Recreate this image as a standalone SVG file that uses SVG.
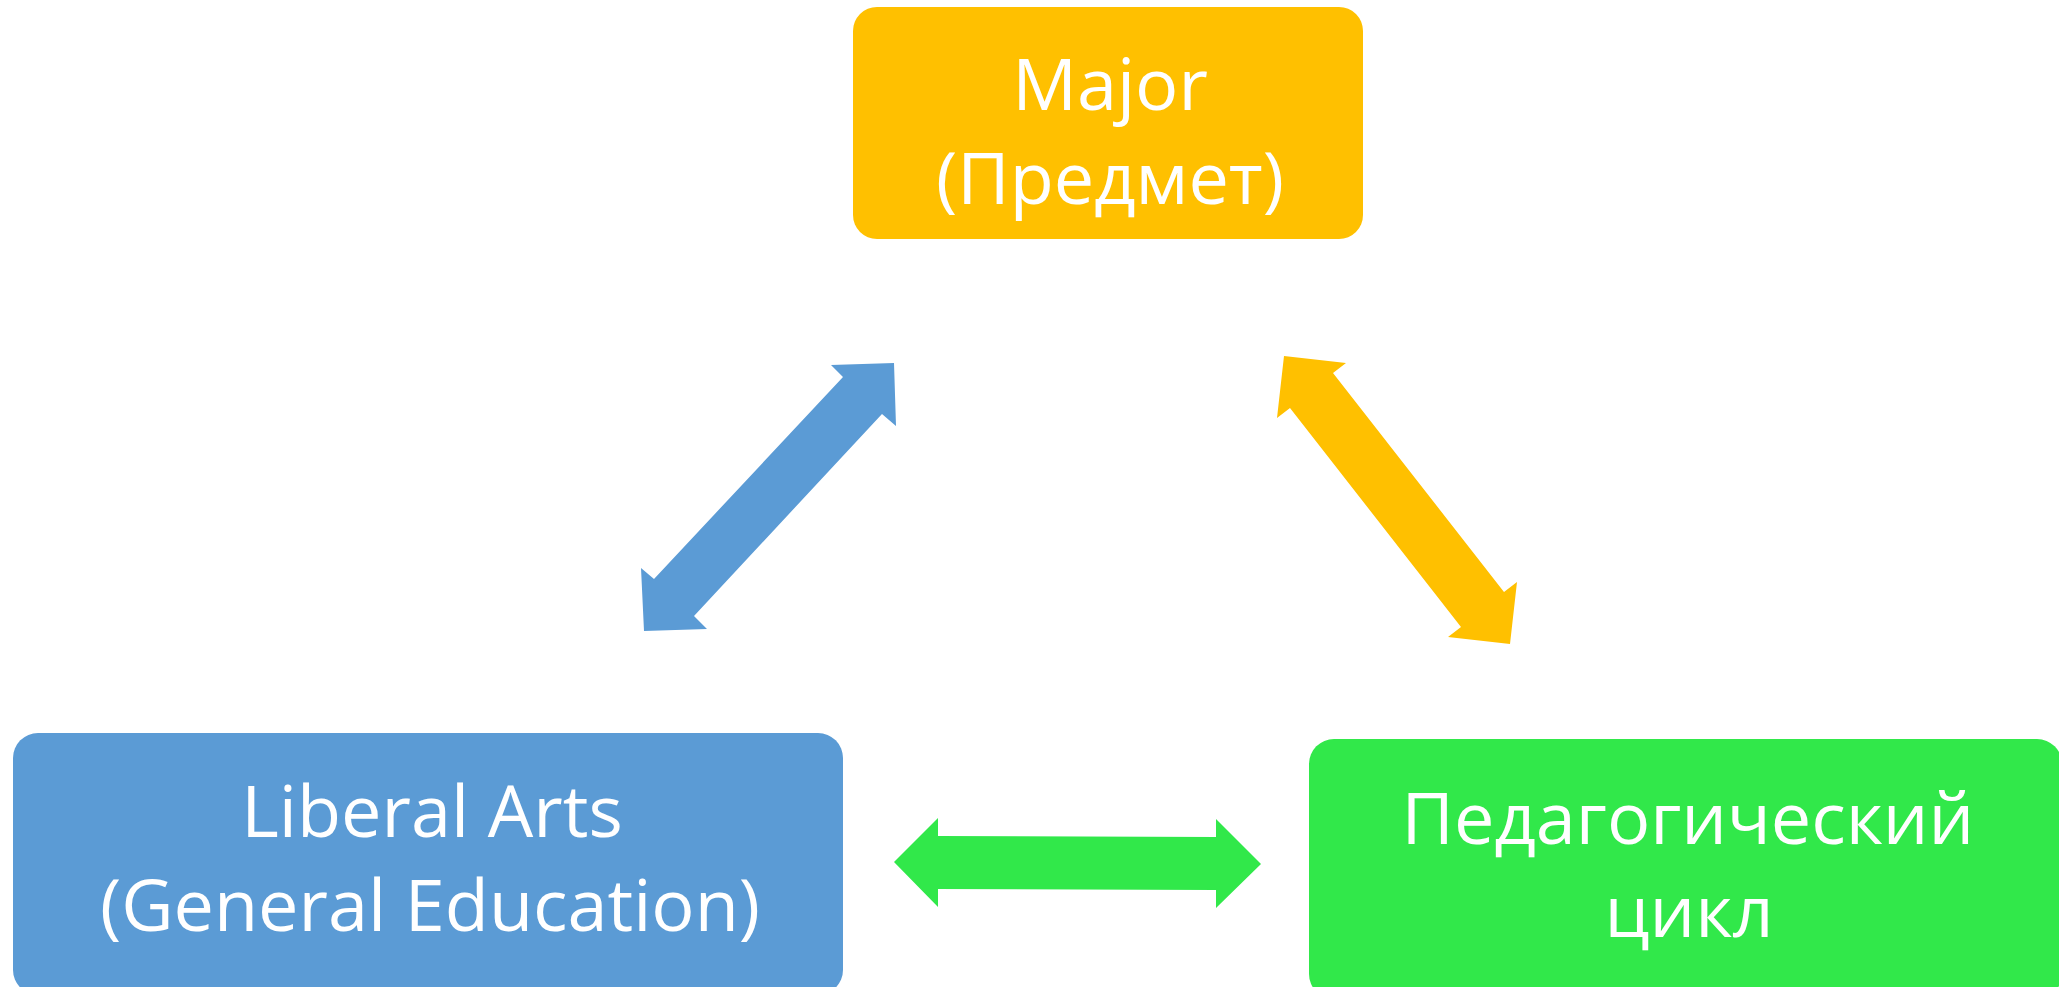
<svg xmlns="http://www.w3.org/2000/svg" width="2059" height="987" viewBox="0 0 2059 987">
<style>
.lbl{font-family:"Open Sans","Liberation Sans",sans-serif;font-size:72px;fill:#FFFFFF;text-anchor:middle}
</style>
<rect x="0" y="0" width="2059" height="987" fill="#FFFFFF"/>
<g id="connectors">
<polygon id="arrow-major-liberal" fill="#5B9BD5" points="894,363 896,426 882,414 694,616 707,629 644,631 641,568 654,579 843,377 831,365"/>
<polygon id="arrow-major-ped" fill="#FFC000" points="1284,356 1346,363 1333,373 1504,592 1517,582 1510,644 1448,637 1461,627 1290,408 1277,418"/>
<polygon id="arrow-liberal-ped" fill="#31E84A" points="894,862 938,818 938,836 1216,837 1216,819 1261,864 1216,908 1216,890 938,889 938,907"/>
</g>
<g id="node-major">
<rect x="853" y="7" width="510" height="232" rx="24" fill="#FFC000"/>
<text class="lbl" x="1110" y="110">Major</text>
<text class="lbl" x="1110" y="204">(Предмет)</text>
</g>
<g id="node-liberal">
<rect x="13" y="733" width="830" height="262" rx="25" fill="#5B9BD5"/>
<text class="lbl" x="432" y="837">Liberal Arts</text>
<text class="lbl" x="430" y="931">(General Education)</text>
</g>
<g id="node-ped">
<rect x="1309" y="739" width="753" height="260" rx="25" fill="#31E84A"/>
<text class="lbl" x="1688" y="844">Педагогический</text>
<text class="lbl" x="1689" y="937">цикл</text>
</g>
</svg>
